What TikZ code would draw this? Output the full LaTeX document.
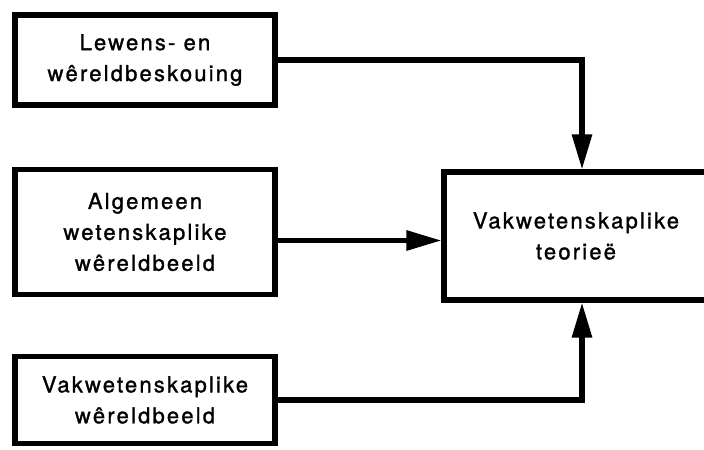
\documentclass[tikz,border=0pt]{standalone}
\usepackage{fontspec}
\setmainfont{TeX Gyre Heros}[LetterSpace=10,FakeBold=1.3]
\usetikzlibrary{arrows.meta}

\begin{document}
\begin{tikzpicture}[x=0.02cm,y=-0.02cm,line width=2.9pt,
  box/.style={draw,align=center,inner sep=0pt,minimum width=5.2cm,font=\fontsize{12.5}{17.6}\selectfont},
  pyl/.style={-{Triangle[length=20pt,width=11pt]}}]
\useasboundingbox (0,0) rectangle (704,450);
\node[box,minimum height=1.8cm] (lewens) at (145,60) {Lewens- en\\wêreldbeskouing};
\node[box,minimum height=2.5cm] (algemeen) at (145,232) {Algemeen\\wetenskaplike\\wêreldbeeld};
\node[box,minimum height=1.74cm] (vakwereld) at (145,400) {Vakwetenskaplike\\wêreldbeeld};
\node[box,minimum width=5.28cm,minimum height=2.56cm] (teorie) at (576,236) {Vakwetenskaplike\\teorieë};
% pyle na die teorieë
\coordinate (m) at ([yshift=-0.17cm]algemeen.east);
\draw[pyl] (lewens.east) -| ([xshift=0.12cm]teorie.north);
\draw[pyl] (m) -- (m -| teorie.west);
\draw[pyl] (vakwereld.east) -| ([xshift=0.12cm]teorie.south);
\end{tikzpicture}
\end{document}
